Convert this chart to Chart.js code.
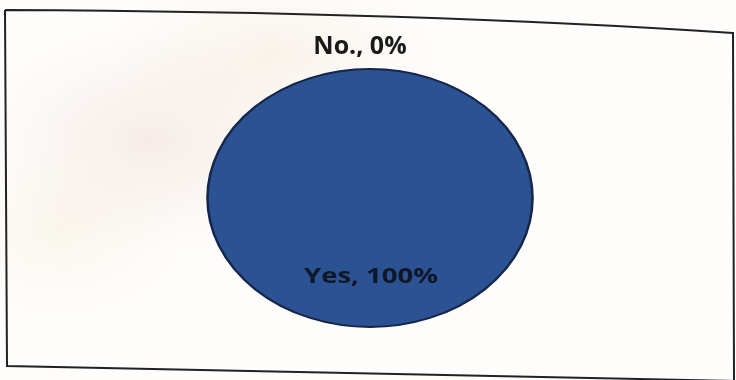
<!DOCTYPE html>
<html>
<head>
<meta charset="utf-8">
<script src="https://cdn.jsdelivr.net/npm/chart.js@4.4.1/dist/chart.umd.min.js"></script>
<style>
  html, body { margin: 0; padding: 0; }
  body {
    width: 736px; height: 380px; overflow: hidden;
    background:
      radial-gradient(ellipse 170px 110px at 150px 140px, rgba(238,220,210,0.5), rgba(255,255,255,0) 100%),
      radial-gradient(ellipse 160px 80px at 270px 55px, rgba(242,230,212,0.45), rgba(255,255,255,0) 100%),
      radial-gradient(ellipse 120px 80px at 60px 230px, rgba(244,236,214,0.4), rgba(255,255,255,0) 100%),
      #fefdfc;
  }
  #wrap { position: absolute; left: 0; top: 0; width: 736px; height: 380px; }
</style>
</head>
<body>
<div id="wrap"><canvas id="c" width="736" height="380"></canvas></div>
<script>
const categories = ['Yes', 'No.'];
const values = [100, 0];
const percentLabels = ['100%', '0%'];

const STRETCH_X = 1.26;

const framePlugin = {
  id: 'frame',
  beforeDraw(chart) {
    const ctx = chart.ctx;
    ctx.save();
    ctx.strokeStyle = '#222';
    ctx.lineWidth = 2;
    ctx.beginPath();
    ctx.moveTo(5, 10);
    ctx.quadraticCurveTo(420, 12, 733, 33);
    ctx.lineTo(734, 380);
    ctx.moveTo(5, 10);
    ctx.lineTo(7, 366);
    ctx.quadraticCurveTo(400, 374, 736, 381);
    ctx.stroke();
    ctx.restore();
  }
};

const stretchPlugin = {
  id: 'stretch',
  beforeDatasetsDraw(chart) {
    const arc = chart.getDatasetMeta(0).data[0];
    const ctx = chart.ctx;
    ctx.save();
    ctx.translate(arc.x, arc.y);
    ctx.scale(STRETCH_X, 1);
    ctx.translate(-arc.x, -arc.y);
  },
  afterDatasetsDraw(chart) {
    const ctx = chart.ctx;
    const arc = chart.getDatasetMeta(0).data[0];
    ctx.beginPath();
    ctx.arc(arc.x, arc.y, arc.outerRadius, 0, Math.PI * 2);
    ctx.lineWidth = 2;
    ctx.strokeStyle = '#15264a';
    ctx.stroke();
    ctx.restore();

    const meta = chart.getDatasetMeta(0);
    meta.data.forEach((el, i) => {
      const mid = (el.startAngle + el.endAngle) / 2;
      let r, font, color, dx, sx;
      if (values[i] > 0) {
        r = el.outerRadius * 0.61;
        font = 'bold 22px "Open Sans", "Liberation Sans", sans-serif';
        color = '#0f1828';
        dx = 1; sx = 1.25;
      } else {
        r = el.outerRadius + 22;
        font = 'bold 25px "Open Sans", "Liberation Sans", sans-serif';
        color = '#1a1a1a';
        dx = -10; sx = 1.0;
      }
      const x = el.x + Math.cos(mid) * r * STRETCH_X + dx;
      const y = el.y + Math.sin(mid) * r;
      ctx.save();
      ctx.translate(x, y);
      ctx.scale(sx, 1);
      ctx.font = font;
      ctx.fillStyle = color;
      ctx.textAlign = 'center';
      ctx.textBaseline = 'middle';
      ctx.fillText(categories[i] + ', ' + percentLabels[i], 0, 0);
      ctx.restore();
    });
  }
};

new Chart(document.getElementById('c'), {
  type: 'pie',
  data: {
    labels: categories,
    datasets: [{
      data: values,
      backgroundColor: ['#2b5292', '#c0504d'],
      borderWidth: 0
    }]
  },
  options: {
    responsive: false,
    animation: false,
    layout: { padding: { top: 69, bottom: 53, left: 104, right: 100 } },
    plugins: {
      legend: { display: false },
      tooltip: { enabled: false }
    }
  },
  plugins: [framePlugin, stretchPlugin]
});
</script>
</body>
</html>
